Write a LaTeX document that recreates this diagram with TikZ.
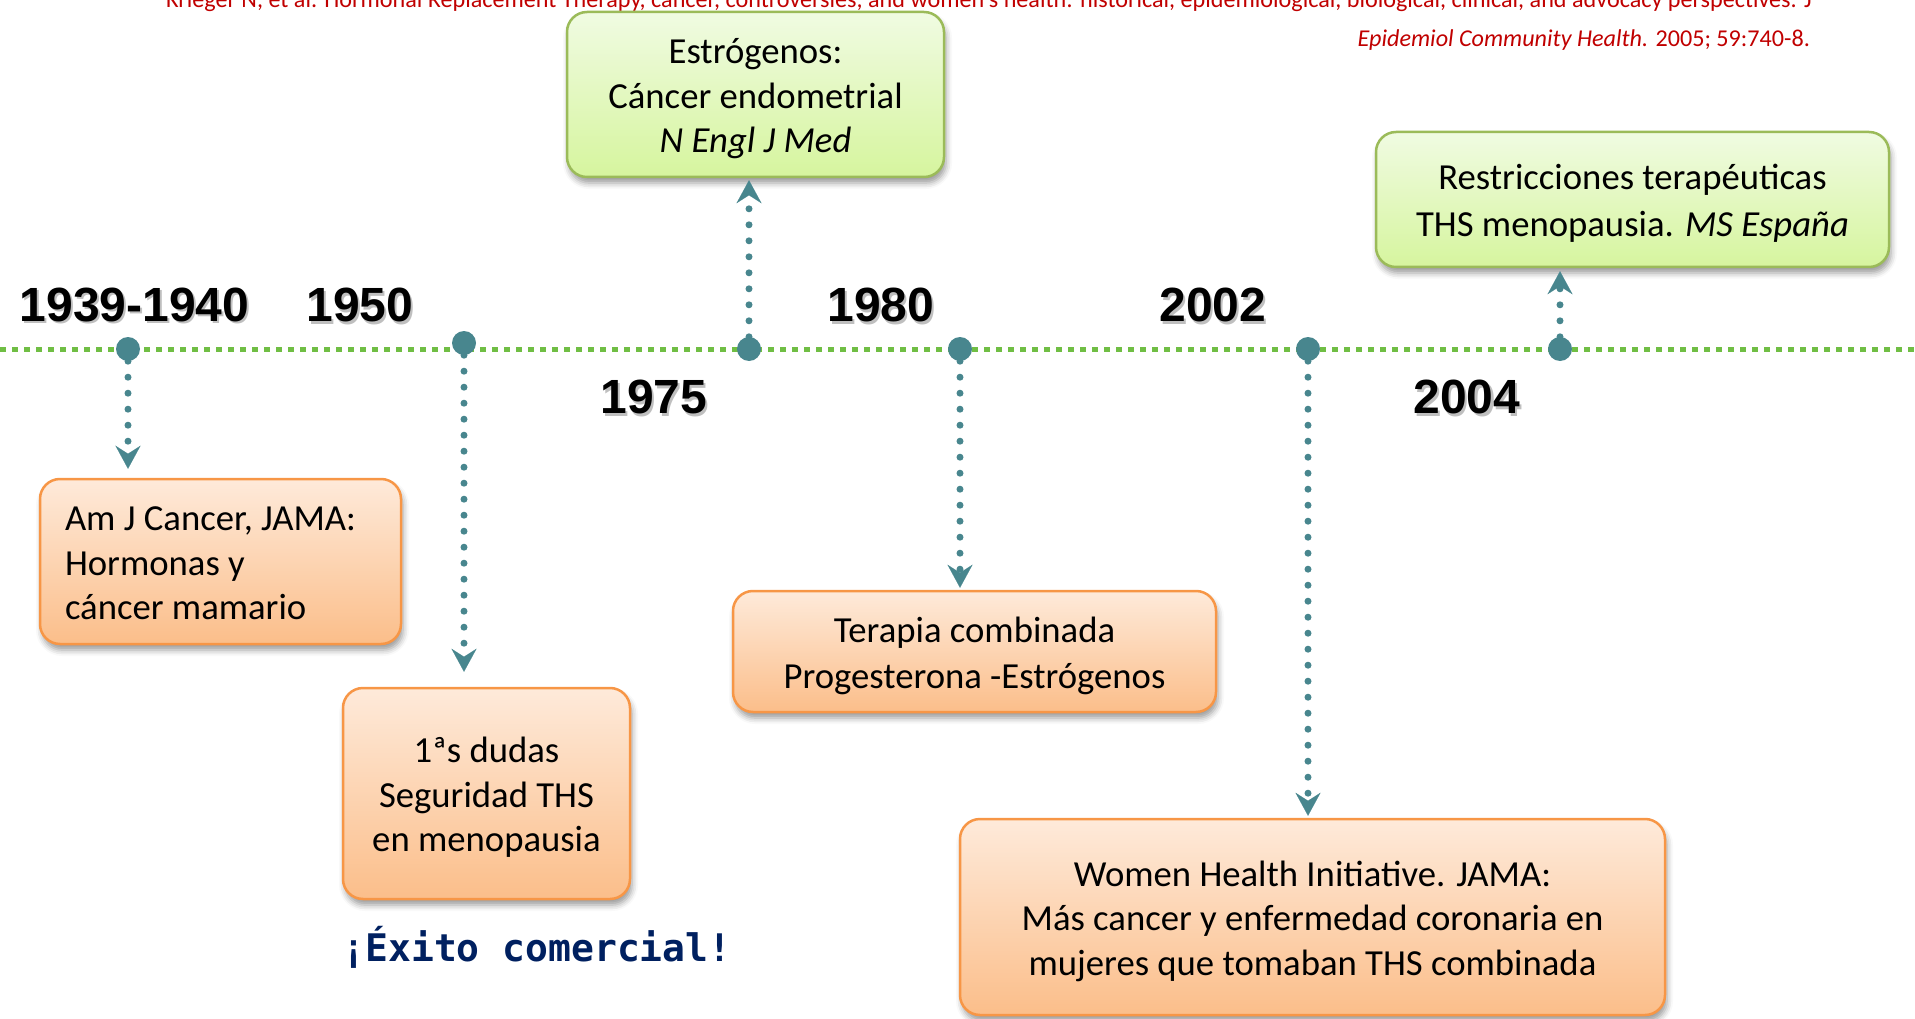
\documentclass[tikz,border=0pt]{standalone}
\usepackage{fontspec}
\setmainfont{Carlito}
\newfontfamily\yearfont{Liberation Sans}
\newfontfamily\exitofont{DejaVu Sans Mono}
\usetikzlibrary{arrows.meta,shadows.blur}
\definecolor{tealc}{RGB}{72,134,142}
\definecolor{tlgreen}{RGB}{112,190,68}
\definecolor{orbd}{RGB}{247,150,70}
\definecolor{ortop}{RGB}{254,234,218}
\definecolor{orbot}{RGB}{251,190,138}
\definecolor{grbd}{RGB}{155,187,89}
\definecolor{grtop}{RGB}{240,251,226}
\definecolor{grbot}{RGB}{214,245,158}
\definecolor{citered}{RGB}{192,0,0}
\definecolor{navyc}{RGB}{0,32,96}
\newcommand\boxstrut{\rule[-9pt]{0pt}{45.5pt}}
\tikzset{
  boxbase/.style={draw, line width=2.5pt, rounded corners=20pt, align=center, inner sep=0pt,
    font=\fontsize{36.7}{44.5}\selectfont,
    blur shadow={shadow xshift=2pt, shadow yshift=-6pt, shadow blur radius=6pt, shadow opacity=40}},
  obox/.style={boxbase, draw=orbd, top color=ortop, bottom color=orbot},
  gbox/.style={boxbase, draw=grbd, top color=grtop, bottom color=grbot},
  yearlbl/.style={font=\yearfont\bfseries\fontsize{48}{56}\selectfont, inner sep=0pt, text=black},
  yearshadow/.style={yearlbl, text=black, opacity=0.25},
  dotn/.style={circle, fill=tealc, minimum size=24pt, inner sep=0pt},
  timeline/.style={tlgreen, line width=5pt, dash pattern=on 6pt off 6pt},
  conn/.style={tealc, line width=7pt, line cap=round, dash pattern=on 0pt off 16pt,
    -{Stealth[length=23pt, width=25pt, inset=8pt, line width=0.1pt]}},
  cite/.style={font=\fontsize{24.15}{30}\selectfont, text=citered, inner sep=0pt},
}
\begin{document}
\begin{tikzpicture}[x=1pt, y=-1pt]
\useasboundingbox (0,0) rectangle (1915,1019);
% citation
\node[cite, anchor=base east] (cite1) at (1812,8) {Krieger N, et al. Hormonal Replacement Therapy, cancer, controversies, and women’s health: historical, epidemiological, biological, clinical, and advocacy perspectives. J};
\node[cite, anchor=base east] (cite2) at (1810,47) {\textit{Epidemiol Community Health.} 2005; 59:740-8.};
% timeline
\coordinate (tlL) at (0,349);
\coordinate (tlR) at (1915,349);
\draw[timeline] (tlL) -- (tlR);
% dots
\node[dotn] (d1939) at (128,349) {};
\node[dotn] (d1950) at (464,343) {};
\node[dotn] (d1975) at (749,349) {};
\node[dotn] (d1980) at (960,349) {};
\node[dotn] (d2002) at (1308,349) {};
\node[dotn] (d2004) at (1560,349) {};
% years
\node[yearshadow] at (136.5,307.5) {1939-1940};
\node[yearlbl] (y1939) at (134.5,305) {1939-1940};
\node[yearshadow] at (362,307.5) {1950};
\node[yearlbl] (y1950) at (360,305) {1950};
\node[yearshadow] at (656,399.5) {1975};
\node[yearlbl] (y1975) at (654,397) {1975};
\node[yearshadow] at (883,307.5) {1980};
\node[yearlbl] (y1980) at (881,305) {1980};
\node[yearshadow] at (1215,307.5) {2002};
\node[yearlbl] (y2002) at (1213,305) {2002};
\node[yearshadow] at (1469,399.5) {2004};
\node[yearlbl] (y2004) at (1467,397) {2004};
% boxes
\node[gbox, minimum width=377pt, minimum height=165pt] (estro) at (755.5,94.5)
  {\boxstrut Estrógenos:\\Cáncer endometrial\\\textit{N Engl J Med}\boxstrut};
\node[obox, minimum width=361pt, minimum height=165pt, text width=311pt, align=flush left, inner xsep=25pt] (amj) at (220.5,561.5)
  {\boxstrut Am J Cancer, JAMA:\\Hormonas y\\cáncer mamario\boxstrut};
\node[obox, minimum width=287pt, minimum height=211pt] (dudas) at (486.5,793.5)
  {\boxstrut 1ªs dudas\\Seguridad THS\\en menopausia\boxstrut};
\node[obox, minimum width=483pt, minimum height=121pt] (terapia) at (974.5,651.5)
  {\boxstrut Terapia combinada\\Progesterona -Estrógenos\boxstrut};
\node[obox, minimum width=705pt, minimum height=196pt] (whi) at (1312.5,917)
  {\boxstrut Women Health Initiative. JAMA:\\Más cancer y enfermedad coronaria en\\mujeres que tomaban THS combinada\boxstrut};
\node[gbox, minimum width=513pt, minimum height=135pt] (restr) at (1632.5,199.5)
  {\boxstrut Restricciones terapéuticas\\THS menopausia. \textit{MS España}\boxstrut};
% exito
\node[font=\exitofont\bfseries\fontsize{38}{42}\selectfont, text=navyc, inner sep=0pt] (exito) at (537,947) {¡Éxito comercial!};
% connectors
\draw[conn, shorten >=9pt] (d1939.south) -- (d1939 |- amj.north);
\draw[conn, shorten >=15pt] (d1950.south) -- (d1950 |- dudas.north);
\draw[conn, shorten >=2pt] (d1975.north) -- (d1975 |- estro.south);
\draw[conn, shorten >=2pt] (d1980.south) -- (d1980 |- terapia.north);
\draw[conn, shorten >=2pt] (d2002.south) -- (d2002 |- whi.north);
\draw[conn, shorten >=3pt] (d2004.north) -- (d2004 |- restr.south);
\end{tikzpicture}
\end{document}
